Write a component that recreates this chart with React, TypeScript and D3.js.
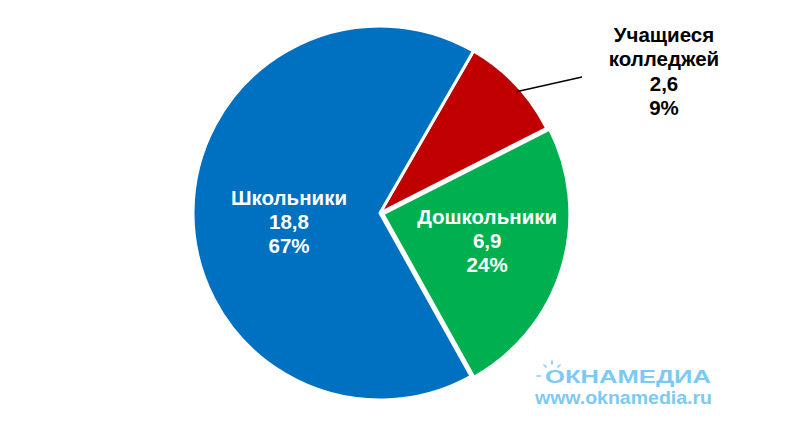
import React from "react";
import * as d3 from "d3";

const categories = ["Учащиеся колледжей", "Дошкольники", "Школьники"];
const values = [2.6, 6.9, 18.8];
const percents = ["9%", "24%", "67%"];
const valueLabels = ["2,6", "6,9", "18,8"];
const colors = ["#C00000", "#00B050", "#0070C0"];

const W = 800;
const H = 430;
const cx = 380;
const cy = 213;
const R = 187;
const FONT = "'Liberation Sans', Arial, sans-serif";

export default function App() {
  const pie = d3
    .pie<number>()
    .sort(null)
    .value((d) => d)
    .startAngle((30 * Math.PI) / 180)
    .endAngle((30 * Math.PI) / 180 + 2 * Math.PI);
  const arcs = pie(values);
  const arc = d3.arc<d3.PieArcDatum<number>>().innerRadius(0).outerRadius(R);
  const labelRadii = [R, 112, 91];
  const labelDy = [0, -5, 10];
  const explode = [0, 3, 0];

  const lineH = 24;

  return (
    <svg width={W} height={H} style={{ position: "absolute", left: 0, top: 0, background: "#fff" }}>
      <g transform={`translate(${cx},${cy})`}>
        {arcs.map((a, i) => {
          const mid = (a.startAngle + a.endAngle) / 2;
          const ox = Math.sin(mid) * explode[i];
          const oy = -Math.cos(mid) * explode[i];
          return (
            <path
              key={i}
              d={arc(a) || ""}
              fill={colors[i]}
              stroke="#fff"
              strokeWidth={3}
              strokeLinejoin="round"
              transform={`translate(${ox},${oy})`}
            />
          );
        })}
        {arcs.map((a, i) => {
          const mid = (a.startAngle + a.endAngle) / 2;
          if (i === 0) {
            const x0 = Math.sin(mid) * (R - 2) + 2;
            const y0 = -Math.cos(mid) * (R - 2) + 6;
            const x1 = 582 - cx;
            const y1 = 77 - cy;
            const tx = 664 - cx;
            const lines = ["Учащиеся", "колледжей", valueLabels[i], percents[i]];
            return (
              <g key={i}>
                <line x1={x0} y1={y0} x2={x1} y2={y1} stroke="#000" strokeWidth={1.3} />
                <text
                  textAnchor="middle"
                  fontFamily={FONT}
                  fontWeight="bold"
                  fontSize={20.5}
                  fill="#000"
                >
                  {lines.map((l, k) => (
                    <tspan key={k} x={tx} y={42 - cy + k * 24.3}>
                      {l}
                    </tspan>
                  ))}
                </text>
              </g>
            );
          }
          const r = labelRadii[i];
          const lx = Math.sin(mid) * r;
          const ly = -Math.cos(mid) * r + labelDy[i];
          const lines = [categories[i], valueLabels[i], percents[i]];
          return (
            <text
              key={i}
              textAnchor="middle"
              fontFamily={FONT}
              fontWeight="bold"
              fontSize={20.5}
              fill="#fff"
            >
              {lines.map((l, k) => (
                <tspan key={k} x={lx} y={ly + (k - 1) * lineH + 7}>
                  {l}
                </tspan>
              ))}
            </text>
          );
        })}
      </g>
      <g fill="#7ccaf4" fontFamily={FONT} fontWeight="bold">
        <text x={545} y={383} fontSize={18} textLength={166} lengthAdjust="spacingAndGlyphs">
          ОКНАМЕДИА
        </text>
        <g stroke="#7ccaf4" strokeWidth={1.6} strokeLinecap="round">
          <line x1={552} y1={361} x2={552} y2={364} />
          <line x1={544} y1={365} x2={546} y2={367} />
          <line x1={560} y1={365} x2={558} y2={367} />
          <line x1={537} y1={376} x2={540} y2={376} />
        </g>
        <text x={535} y={404} fontSize={19} textLength={177} lengthAdjust="spacingAndGlyphs">
          www.oknamedia.ru
        </text>
      </g>
    </svg>
  );
}
